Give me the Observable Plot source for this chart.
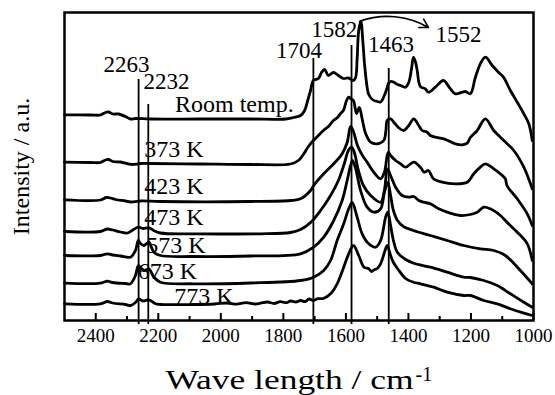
<!DOCTYPE html>
<html><head><meta charset="utf-8">
<script src="https://cdn.jsdelivr.net/npm/d3@7"></script>
<script src="https://cdn.jsdelivr.net/npm/@observablehq/plot@0.6"></script>
<style>
body{margin:0;background:#fff;}
svg{display:block}
svg text{font-family:"Liberation Serif","Times New Roman",Times,serif !important;}
</style>
</head><body><div id="chart"></div>
<script>
// ---------------- data ----------------
const seriesNames = ["Room temp.", "373 K", "423 K", "473 K", "573 K", "673 K", "773 K"];
// [wavenumber (cm-1), intensity (a.u., stacked)]
const roomTemp = [[2500,205.7],[2417,205.5],[2385,205.5],[2369,208],[2359,208.5],[2346,206.5],[2327,206.5],[2305,204],[2289,201.5],[2273,202],[2225,201.5],[2065,201.5],[1905,201.5],[1793,201.5],[1768,203],[1745,205],[1732,210],[1723,219],[1713,230],[1704,240],[1688,242],[1678,248],[1668,251],[1656,245],[1640,248],[1624,245],[1608,242],[1592,242.5],[1576,240],[1569,243],[1564,262],[1559,290],[1552,299],[1546,280],[1540,255],[1532,233],[1527,226],[1515,221],[1500,219],[1489,218.5],[1477,225],[1468,233],[1464,237],[1457,239],[1448,238.5],[1435,236],[1425,235],[1409,233.3],[1399,238],[1390,252],[1384,263],[1377,258],[1372,250],[1362,234],[1346,231.7],[1336,228.3],[1314,233.3],[1288,240],[1266,231.7],[1250,226.7],[1228,228.3],[1218,229],[1202,226.7],[1186,243],[1170,256.7],[1154,263.3],[1132,255],[1112,248.3],[1096,243.3],[1074,230],[1052,218.3],[1031,206.7],[1015,196.7],[1004,180]];
const k373 = [[2500,158.3],[2417,158],[2385,158],[2369,160.5],[2359,161],[2346,159],[2321,158.5],[2295,156.5],[2283,156],[2257,157],[2225,157],[2065,156.5],[1905,156],[1777,156.5],[1752,160],[1736,166],[1720,174],[1704,180],[1688,185],[1672,190],[1656,194],[1640,200],[1627,203],[1617,207],[1608,210],[1598,220],[1591,223.3],[1585,222],[1576,220],[1566,207],[1557,213],[1547,200],[1537,187],[1521,178.3],[1500,176.7],[1479,180],[1472,190],[1468,200],[1457,201.7],[1447,198.3],[1432,193],[1415,190],[1399,195],[1383,201.7],[1367,195],[1356,190],[1340,188.3],[1330,185],[1314,183.3],[1287,181.7],[1250,176.7],[1228,175.7],[1212,177.3],[1202,183],[1180,190],[1154,201.7],[1127,190],[1095,180],[1063,170],[1031,153.3],[1004,131.7]];
const k423 = [[2500,120.7],[2385,120.5],[2366,123],[2353,122.5],[2337,121],[2305,119.5],[2289,118.5],[2257,119.5],[2193,119],[1905,119],[1777,120],[1745,121.7],[1713,130],[1703,135],[1671,146.7],[1639,156.7],[1612,166.7],[1596,178],[1585,194],[1576,189],[1563,175],[1547,165],[1532,158.3],[1515,150],[1489,141.7],[1477,148],[1468,165],[1464,168.3],[1457,165],[1441,160],[1425,156.7],[1409,153.3],[1383,158.3],[1362,153.3],[1349,148.3],[1336,150],[1320,141.7],[1292,138.3],[1250,136.7],[1212,138.3],[1191,146.7],[1170,153.3],[1154,156.7],[1127,151.7],[1106,146.7],[1090,141.7],[1085,135],[1052,121.7],[1020,106.7],[1004,95]];
const k473 = [[2500,89],[2385,89],[2363,91.5],[2346,90.5],[2321,88.5],[2298,87.5],[2279,91],[2264,93.3],[2249,92],[2230,92.7],[2215,90],[2193,87.5],[2065,86.7],[1873,86.7],[1777,88],[1745,91],[1713,98],[1681,110],[1649,125],[1624,140],[1605,157],[1592,170],[1582,173.3],[1573,168],[1560,150],[1544,135],[1521,125],[1489,118.3],[1477,130],[1467,151.7],[1457,145],[1441,133.3],[1420,125],[1399,123.3],[1383,124],[1367,120],[1351,118.3],[1330,116.7],[1303,111.7],[1276,108.3],[1234,105],[1202,106],[1180,108.3],[1159,113.3],[1138,111.7],[1106,105],[1085,98.3],[1052,88.3],[1020,76.7],[1004,60]];
const k573 = [[2500,65],[2385,65],[2363,66.7],[2346,65.5],[2321,64.5],[2289,63.3],[2273,70],[2264,80],[2257,77],[2246,75],[2237,77],[2230,78.3],[2214,68.3],[2193,65],[2087,64],[1905,64.5],[1745,66.7],[1703,73.3],[1671,83.3],[1639,100],[1612,120],[1596,140],[1585,155],[1579,160],[1569,152],[1553,130],[1532,113.3],[1511,108.3],[1489,111.7],[1477,128],[1466,138],[1457,125],[1448,110],[1435,100],[1416,94],[1384,90],[1330,85],[1276,80],[1223,75],[1170,71.7],[1127,70],[1090,65],[1042,50],[1004,36.7]];
const k673 = [[2500,37.3],[2385,37.3],[2363,39.3],[2346,38],[2305,37],[2289,36.7],[2273,45],[2264,55],[2257,53],[2246,50],[2237,51],[2230,51.7],[2214,43.3],[2193,38.3],[2087,36.7],[1905,37.5],[1745,40],[1703,43.3],[1671,50],[1649,60],[1628,80],[1607,96.7],[1591,111.7],[1580,118],[1564,103.3],[1548,86.7],[1527,76.7],[1505,73.3],[1489,80],[1473,103.3],[1466,108.3],[1457,95],[1448,80],[1435,68],[1409,61],[1383,57.3],[1330,53.3],[1276,48.3],[1223,43.3],[1202,43],[1159,40],[1116,35],[1074,26.7],[1031,18.3],[1004,13.3]];
const k773 = [[2500,16.7],[2385,16.7],[2363,19],[2346,17.5],[2305,16],[2289,15],[2273,18],[2263,21.7],[2249,19.5],[2230,20.7],[2209,16.7],[2193,16],[2087,16],[2020,16.5],[1980,17.5],[1950,16.3],[1920,17.8],[1890,16.5],[1873,17.3],[1850,18.5],[1830,17],[1810,18.8],[1790,17.8],[1777,19.5],[1760,18.5],[1745,20],[1730,18.8],[1718,21.5],[1704,20],[1690,21.8],[1672,22],[1649,26.7],[1628,36.7],[1607,53.3],[1591,66.7],[1576,75],[1559,65],[1542,53.3],[1527,51.7],[1518,49],[1511,50.5],[1500,52],[1489,56.7],[1473,71.7],[1468,75],[1457,65],[1448,58],[1435,52],[1409,42],[1384,38.3],[1362,36.7],[1319,33.3],[1276,28.3],[1223,25],[1202,25],[1159,20],[1116,16.7],[1074,11.7],[1031,7.3],[1004,5]];
const peakWavenumbers = [2263, 2232, 1704, 1582, 1463];
const shiftedPeak = 1552;
const xTicks = [2400, 2200, 2000, 1800, 1600, 1400, 1200, 1000];
const xMinorTicks = [2300, 2100, 1900, 1700, 1500, 1300, 1100];
const xTitle = "Wave length / cm";
const xTitleSup = "-1";
const yTitle = "Intensity / a.u.";

// ---------------- build ----------------
const spectra = [roomTemp, k373, k423, k473, k573, k673, k773];
const rows = spectra.flatMap((s, i) => s.map(([w, v]) => ({series: seriesNames[i], w, v})));

// layout of annotations (positions in data units)
const peakLineTop = [241, 216, 262, 275, 252];
const peakLines = peakWavenumbers.map((w, i) => ({w, top: peakLineTop[i]}));
const peakLabelPos = [[2302, 249], [2174, 231.7], [1750, 263], [1637, 283.5], [1456, 268.5]];
const peakLabels = peakWavenumbers.map((w, i) => ({text: String(w), x: peakLabelPos[i][0], y: peakLabelPos[i][1]}))
  .concat([{text: String(shiftedPeak), x: 1240, y: 278.5}]);
const tempLabelPos = [[1767, 209], [2055, 163.3], [2055, 126.7], [2055, 96], [2049, 67.3], [2076, 41.7], [1959, 16.7]];
const tempLabels = seriesNames.map((s, i) => ({text: s, x: tempLabelPos[i][0], y: tempLabelPos[i][1]}));

const serif = "Liberation Serif, Times New Roman, Times, serif";
const chart = Plot.plot({
  width: 555, height: 395,
  marginLeft: 64, marginRight: 22, marginTop: 12, marginBottom: 75,
  style: {fontFamily: serif, background: "#fff", color: "#000"},
  x: {domain: [2500, 1000]},
  y: {domain: [0, 308], axis: null},
  marks: [
    Plot.ruleX(peakLines, {x: "w", y1: -4, y2: "top", stroke: "#000", strokeWidth: 1.8}),
    Plot.line(rows, {x: "w", y: "v", z: "series", stroke: "#000", strokeWidth: 2.8, curve: "catmull-rom", strokeLinejoin: "round"}),
    Plot.arrow([{x1: shiftedPeak + 4, y1: 299.3, x2: 1336, y2: 293}], {x1: "x1", y1: "y1", x2: "x2", y2: "y2", bend: 25, headLength: 9, strokeWidth: 1.6, stroke: "#000"}),
    Plot.ruleX(xTicks, {x: d => d, insetTop: 301, strokeWidth: 2, stroke: "#000"}),
    Plot.ruleX(xMinorTicks, {x: d => d, insetTop: 304, strokeWidth: 2, stroke: "#000"}),
    Plot.frame({stroke: "#000", strokeWidth: 2.5}),
    Plot.axisX(xTicks, {tickSize: 0, tickPadding: 8, tickFormat: d => String(d), fontSize: 19, fontFamily: serif, label: null}),
    Plot.text(peakLabels, {x: "x", y: "y", text: "text", textAnchor: "middle", lineAnchor: "bottom", fontSize: 23, fontFamily: serif, fill: "#000"}),
    Plot.text(tempLabels, {x: "x", y: "y", text: "text", textAnchor: "end", lineAnchor: "bottom", fontSize: 24, fontFamily: serif, fill: "#000"}),
    Plot.text([yTitle], {text: d => d, frameAnchor: "left", rotate: -90, dx: -43, dy: 0, fontSize: 24, fontFamily: serif, textAnchor: "middle", lineAnchor: "middle", fill: "#000"}),
    Plot.text([xTitle], {text: d => d, frameAnchor: "bottom", textAnchor: "start", lineAnchor: "bottom", dx: -133.5, dy: 68, fontSize: 28, fontFamily: serif, fill: "#000"}),
    Plot.text([xTitleSup], {text: d => d, frameAnchor: "bottom", textAnchor: "start", lineAnchor: "bottom", dx: 116.5, dy: 60, fontSize: 20, fontFamily: serif, fill: "#000"})
  ]
});
document.getElementById("chart").append(chart);
for (const t of chart.querySelectorAll("text")) {
  if (t.textContent === xTitle) {
    t.setAttribute("textLength", 248);
    t.setAttribute("lengthAdjust", "spacingAndGlyphs");
  }
}
</script>
</body></html>
